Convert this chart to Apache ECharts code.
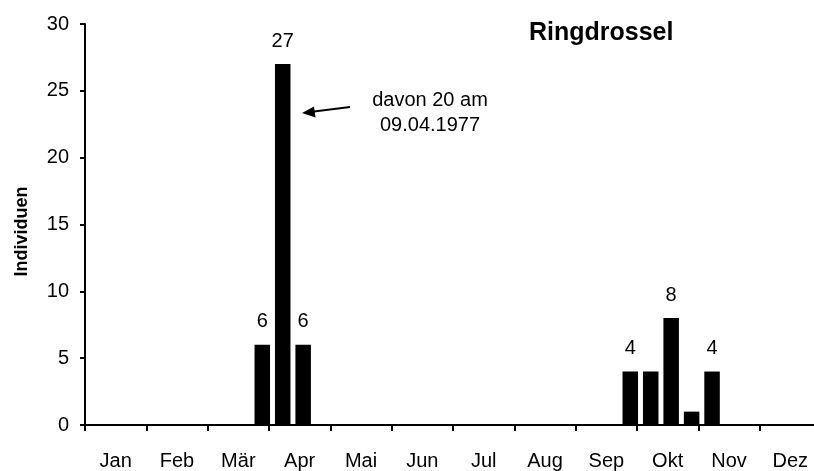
<!DOCTYPE html>
<html>
<head>
<meta charset="utf-8">
<script src="https://cdn.jsdelivr.net/npm/echarts@6/dist/echarts.min.js"></script>
<style>
html,body{margin:0;padding:0;background:#fff;overflow:hidden;}
#chart{width:814px;height:471px;}
</style>
</head>
<body>
<div id="chart"></div>
<script>
// Months (axis labels)
const months = ['Jan','Feb','Mär','Apr','Mai','Jun','Jul','Aug','Sep','Okt','Nov','Dez'];
// Decades (thirds of month): 36 slots
const decades = [];
months.forEach(m => { decades.push(m + ' I', m + ' II', m + ' III'); });
// Individuals per decade
const values = [
  0,0,0,   0,0,0,   0,0,6,   27,6,0,
  0,0,0,   0,0,0,   0,0,0,   0,0,0,
  0,0,4,   4,8,1,   4,0,0,   0,0,0
];
// Which decades carry a value label
const labelled = [
  0,0,0, 0,0,0, 0,0,1, 1,1,0,
  0,0,0, 0,0,0, 0,0,0, 0,0,0,
  0,0,1, 0,1,0, 1,0,0, 0,0,0
];
const yTicks = [0,5,10,15,20,25,30];
const titleText = 'Ringdrossel';
const yName = 'Individuen';
const noteLines = ['davon 20 am', '09.04.1977'];

const FONT = '"Liberation Sans", Arial, sans-serif';
const chart = echarts.init(document.getElementById('chart'), null, {renderer:'canvas'});

const barData = values.map((v, i) => (v === 0 ? '-' : {
  value: v,
  label: { show: !!labelled[i] }
}));

chart.setOption({
  animation: false,
  backgroundColor: '#fff',
  title: {
    text: titleText, left: 529, top: 21, padding: 0,
    textStyle: { fontFamily: FONT, fontSize: 25, fontWeight: 'bold', color: '#000' }
  },
  grid: { left: 85, top: 24, width: 736, bottom: 46, containLabel: false, outerBoundsMode: 'none' },
  xAxis: [
    {
      type: 'category', data: decades, position: 'bottom',
      axisLine: { show: true, lineStyle: { color: '#000', width: 2 } },
      axisTick: { show: false }, axisLabel: { show: false }, splitLine: { show: false }
    },
    {
      type: 'category', data: months, position: 'bottom', boundaryGap: true,
      axisLine: { show: false },
      axisTick: { show: true, length: 6, lineStyle: { color: '#000', width: 2 } },
      axisLabel: { show: true, margin: 26, fontFamily: FONT, fontSize: 20, color: '#000' },
      splitLine: { show: false }
    }
  ],
  yAxis: {
    type: 'value', min: yTicks[0], max: yTicks[yTicks.length - 1], interval: 5,
    name: yName, nameLocation: 'middle', nameGap: 54, nameRotate: 90,
    nameTextStyle: { fontFamily: FONT, fontSize: 18, fontWeight: 'bold', color: '#000', padding: [0, 14, 0, 0] },
    axisLine: { show: true, lineStyle: { color: '#000', width: 2 } },
    axisTick: { show: true, length: 5, lineStyle: { color: '#000', width: 2 } },
    axisLabel: { margin: 16, fontFamily: FONT, fontSize: 20, color: '#000' },
    splitLine: { show: false }
  },
  series: [
    { type: 'bar', xAxisIndex: 0, data: decades.map(() => '-'), barWidth: 7, barGap: '0%' },
    {
      type: 'bar', xAxisIndex: 0, data: barData, barWidth: 15.5, barGap: '0%',
      itemStyle: { color: '#000' },
      label: { show: false, position: 'top', distance: 13, fontFamily: FONT, fontSize: 20, color: '#000' }
    }
  ],
  graphic: [
    { type: 'line', shape: { x1: 350, y1: 107, x2: 310, y2: 112 }, style: { stroke: '#000', lineWidth: 2 } },
    { type: 'polygon', shape: { points: [[302, 113], [314, 106.5], [315.5, 117.5]] }, style: { fill: '#000' } },
    { type: 'text', x: 430, y: 100, style: { text: noteLines[0], font: '20px ' + FONT, fill: '#000', textAlign: 'center', textVerticalAlign: 'middle' } },
    { type: 'text', x: 430, y: 125, style: { text: noteLines[1], font: '20px ' + FONT, fill: '#000', textAlign: 'center', textVerticalAlign: 'middle' } }
  ]
});
</script>
</body>
</html>
